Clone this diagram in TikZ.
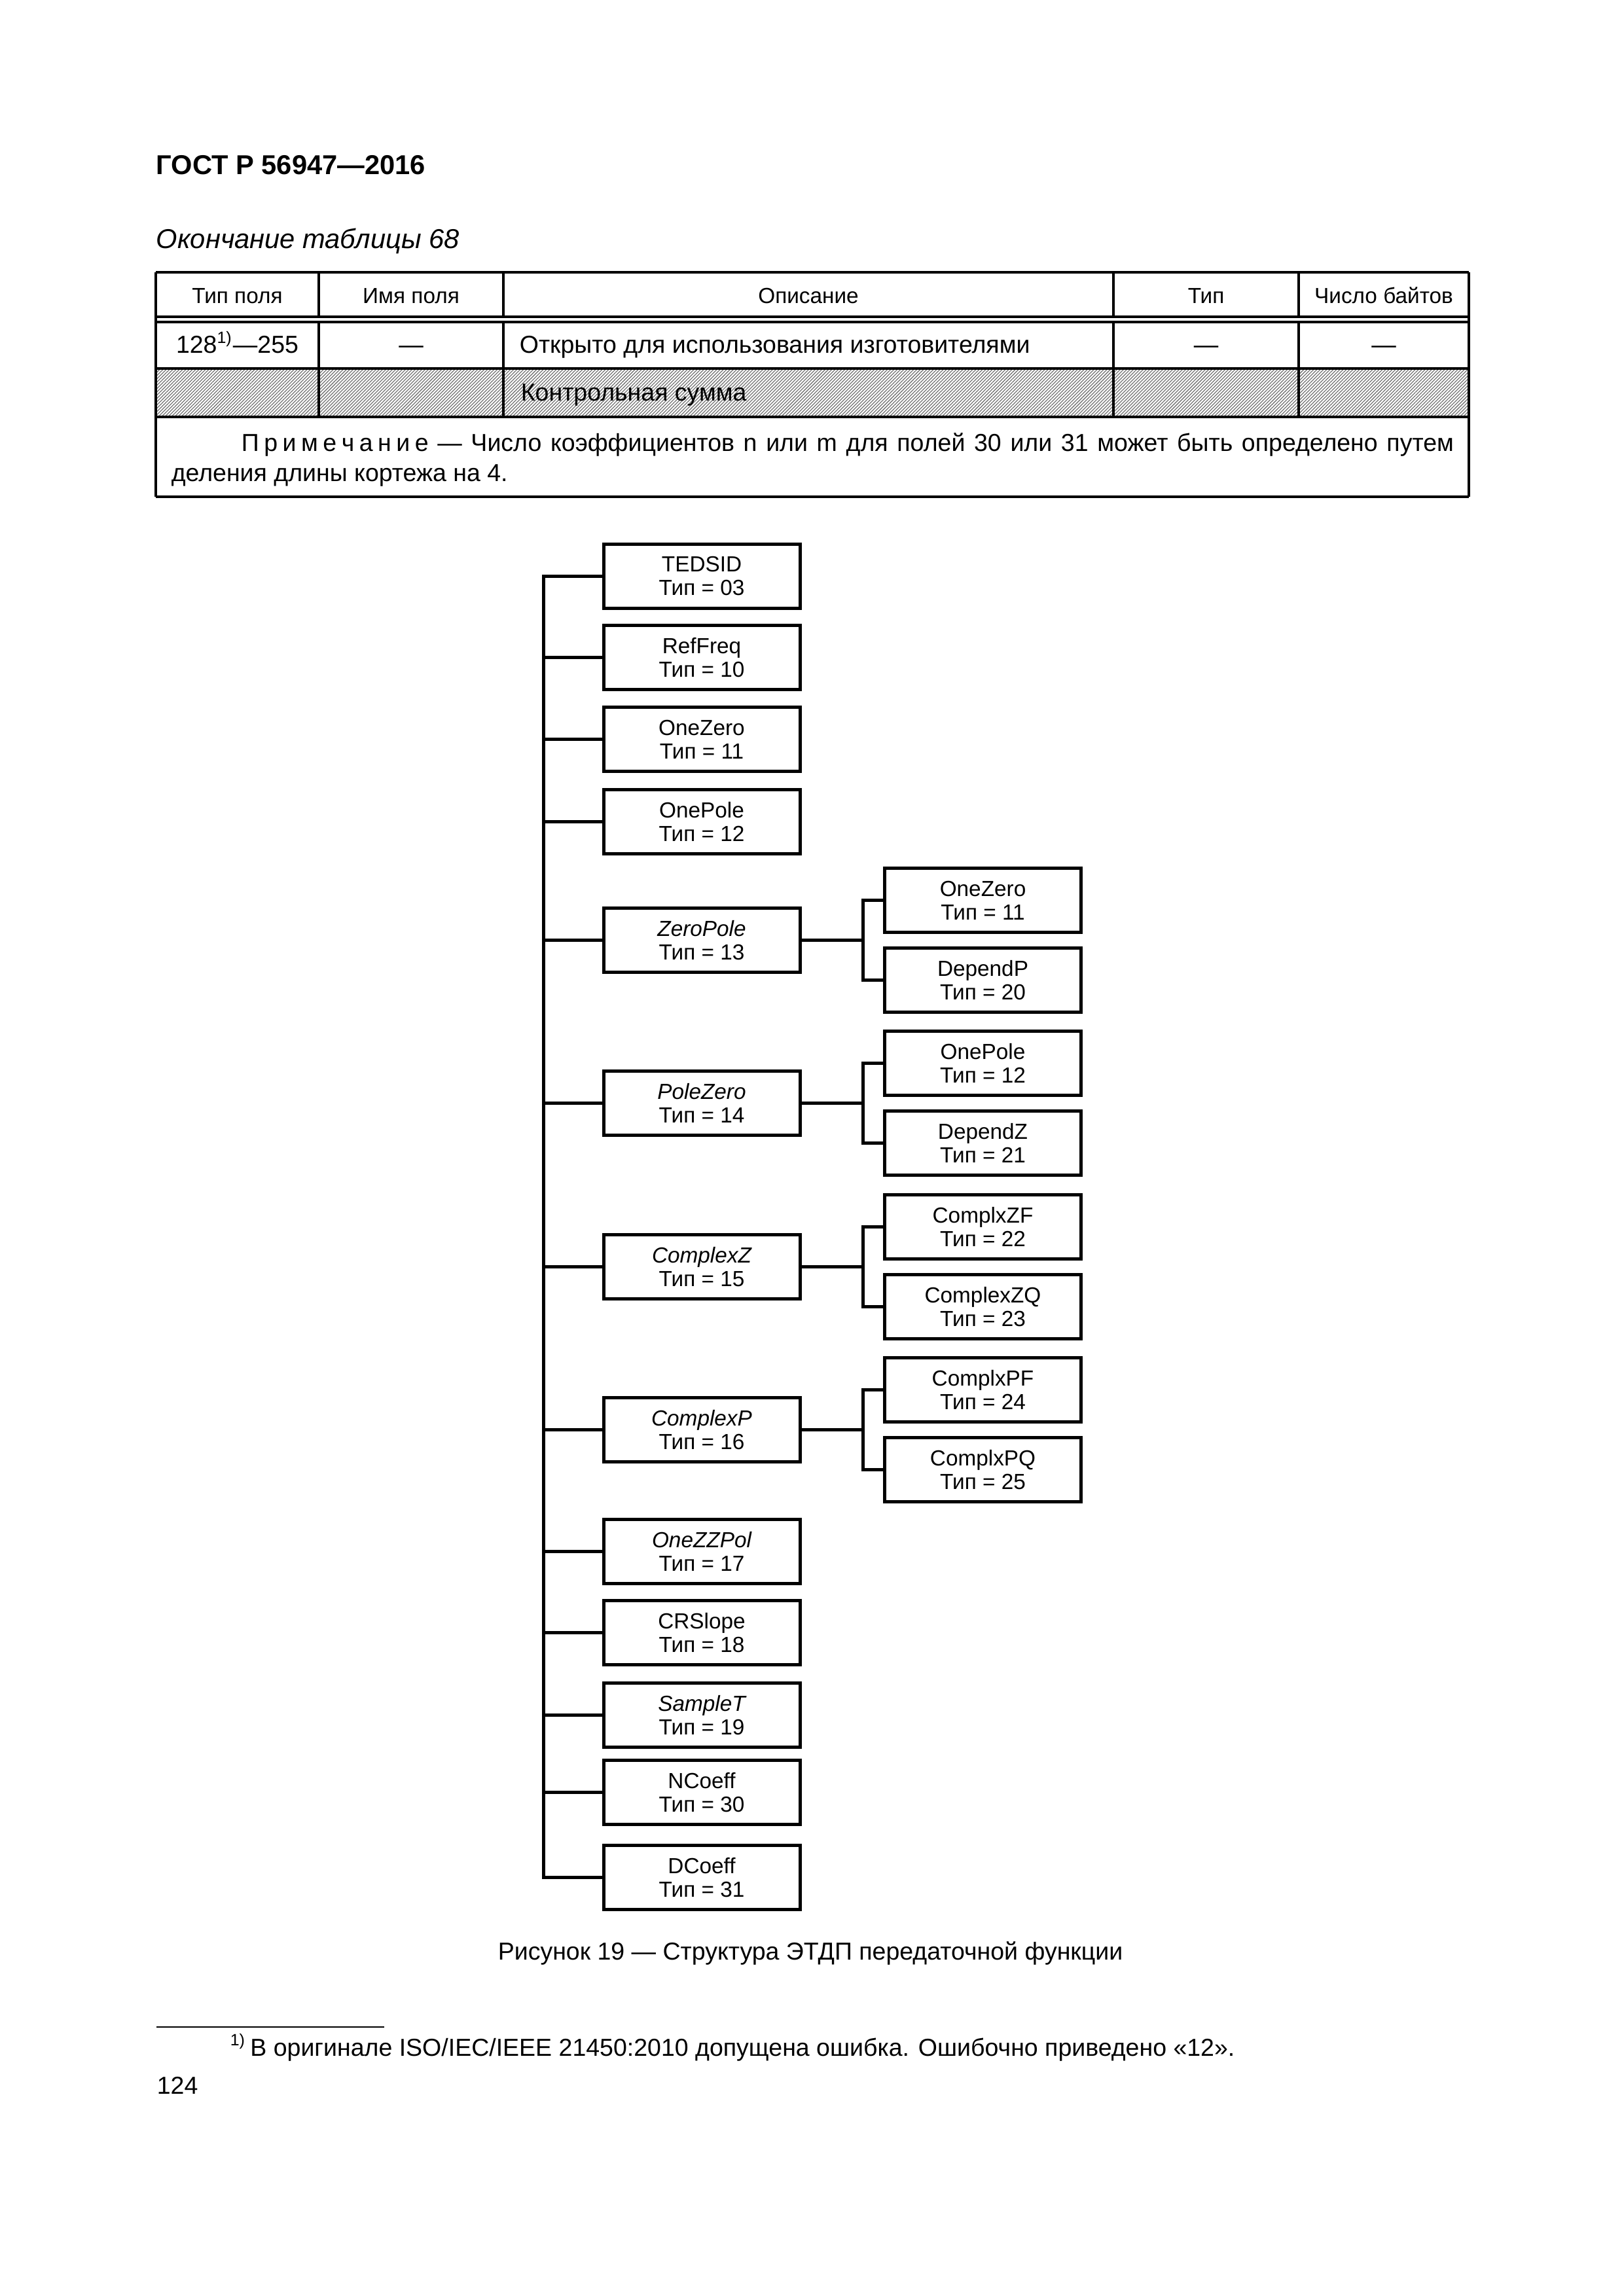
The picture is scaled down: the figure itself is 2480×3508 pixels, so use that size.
\documentclass[tikz,border=0pt]{standalone}
\usepackage{fontspec}
\setmainfont{Liberation Sans}
\usetikzlibrary{patterns.meta}
\newcommand{\lsp}[1]{#1\kern1.8pt}
\begin{document}
\begin{tikzpicture}[x=0.24pt,y=-0.24pt,
  box/.style={draw,line width=1.2pt,minimum width=72pt,minimum height=23.3pt,inner sep=0pt,align=center,font=\fontsize{8}{8.64}\selectfont},
  conn/.style={line width=1.2pt},
  tline/.style={line width=0.75pt},
  ttext/.style={font=\fontsize{9}{10.8}\selectfont,inner sep=0pt,anchor=base},
  htext/.style={font=\fontsize{8}{9.6}\selectfont,inner sep=0pt,anchor=base},
  ltext/.style={ttext,anchor=base west}]
\useasboundingbox (0,0) rectangle (2480,3508);

% header
\node[anchor=base west,inner sep=0pt,font=\fontsize{10}{12}\selectfont\bfseries] (hdr) at (238,267) {ГОСТ Р 56947—2016};
\node[anchor=base west,inner sep=0pt,font=\fontsize{10}{12}\selectfont\itshape] (cont) at (238,380) {Окончание таблицы 68};

% table hatch
\fill[pattern={Lines[angle=45,distance=0.85pt,line width=0.3pt]},pattern color=black!55] (238,563) rectangle (2244,637);
% table lines
\draw[tline] (238,416) -- (2244,416);
\draw[tline] (238,484) -- (2244,484);
\draw[tline] (238,492) -- (2244,492);
\draw[tline] (238,563) -- (2244,563);
\draw[tline] (238,637) -- (2244,637);
\draw[tline] (238,759) -- (2244,759);
\draw[tline] (238,416) -- (238,759);
\draw[tline] (2244,416) -- (2244,759);
\foreach \cx in {487,769,1701,1984}{
  \draw[tline] (\cx,416) -- (\cx,484);
  \draw[tline] (\cx,492) -- (\cx,637);
}
% table header text
\node[htext] (h1) at (362.5,464) {Тип поля};
\node[htext] (h2) at (628,464) {Имя поля};
\node[htext] (h3) at (1235,464) {Описание};
\node[htext] (h4) at (1842.5,464) {Тип};
\node[htext] (h5) at (2114,464) {Число байтов};
% row 1
\node[ttext] (r1a) at (362.5,540) {128\textsuperscript{1)}—255};
\node[ttext] (r1b) at (628,540) {—};
\node[ltext] (r1c) at (793,540) {Открыто для использования изготовителями};
\node[ttext] (r1d) at (1842.5,540) {—};
\node[ttext] (r1e) at (2114,540) {—};
% row 2
\node[ltext] (r2c) at (795,613) {Контрольная сумма};
% note
\node[ltext] (n1) at (368,690) {\makebox[444.5pt][s]{\lsp{П}\lsp{р}\lsp{и}\lsp{м}\lsp{е}\lsp{ч}\lsp{а}\lsp{н}\lsp{и}е — Число коэффициентов n или m для полей 30 или 31 может быть определено путем}};
\node[ltext] (n2) at (261,736) {деления длины кортежа на 4.};

% tree main boxes
\node[box] (m1) at (1072,880.5) {TEDSID\\Тип = 03};
\node[box] (m2) at (1072,1004.5) {RefFreq\\Тип = 10};
\node[box] (m3) at (1072,1129.5) {OneZero\\Тип = 11};
\node[box] (m4) at (1072,1255.5) {OnePole\\Тип = 12};
\node[box] (m5) at (1072,1436.5) {\itshape ZeroPole\\Тип = 13};
\node[box] (m6) at (1072,1685.5) {\itshape PoleZero\\Тип = 14};
\node[box] (m7) at (1072,1935.5) {\itshape ComplexZ\\Тип = 15};
\node[box] (m8) at (1072,2184.5) {\itshape ComplexP\\Тип = 16};
\node[box] (m9) at (1072,2370.5) {\itshape OneZZPol\\Тип = 17};
\node[box] (m10) at (1072,2494.5) {CRSlope\\Тип = 18};
\node[box] (m11) at (1072,2620.5) {\itshape SampleT\\Тип = 19};
\node[box] (m12) at (1072,2738.5) {NCoeff\\Тип = 30};
\node[box] (m13) at (1072,2868.5) {DCoeff\\Тип = 31};

% sub boxes
\node[box] (s5a) at (1501.5,1375.5) {OneZero\\Тип = 11};
\node[box] (s5b) at (1501.5,1497.5) {DependP\\Тип = 20};
\node[box] (s6a) at (1501.5,1624.5) {OnePole\\Тип = 12};
\node[box] (s6b) at (1501.5,1746.5) {DependZ\\Тип = 21};
\node[box] (s7a) at (1501.5,1874.5) {ComplxZF\\Тип = 22};
\node[box] (s7b) at (1501.5,1996.5) {ComplexZQ\\Тип = 23};
\node[box] (s8a) at (1501.5,2123.5) {ComplxPF\\Тип = 24};
\node[box] (s8b) at (1501.5,2245.5) {ComplxPQ\\Тип = 25};

% connectors
\coordinate (bus) at (830,0);
\coordinate (sbus) at (1318,0);
\draw[conn] (m1.west) -- (m1.west -| bus) -- (m13.west -| bus) -- (m13.west);
\foreach \i in {2,...,12}{
  \draw[conn] (m\i.west) -- (m\i.west -| bus);
}
\foreach \p in {5,6,7,8}{
  \draw[conn] (m\p.east) -- (m\p.east -| sbus);
  \draw[conn] (s\p a.west) -- (s\p a.west -| sbus) -- (s\p b.west -| sbus) -- (s\p b.west);
}

% caption
\node[ttext] (cap) at (1238,2994) {Рисунок 19 — Структура ЭТДП передаточной функции};

% footnote
\draw[line width=0.6pt] (239,3097) coordinate (fr1) -- (587,3097) coordinate (fr2);
\node[ltext] (fn) at (351,3141) {\textsuperscript{1)}\,В оригинале ISO/IEC/IEEE 21450:2010 допущена ошибка. Ошибочно приведено «12».};
\node[ltext] (pg) at (239,3199) {124};
\end{tikzpicture}
\end{document}
